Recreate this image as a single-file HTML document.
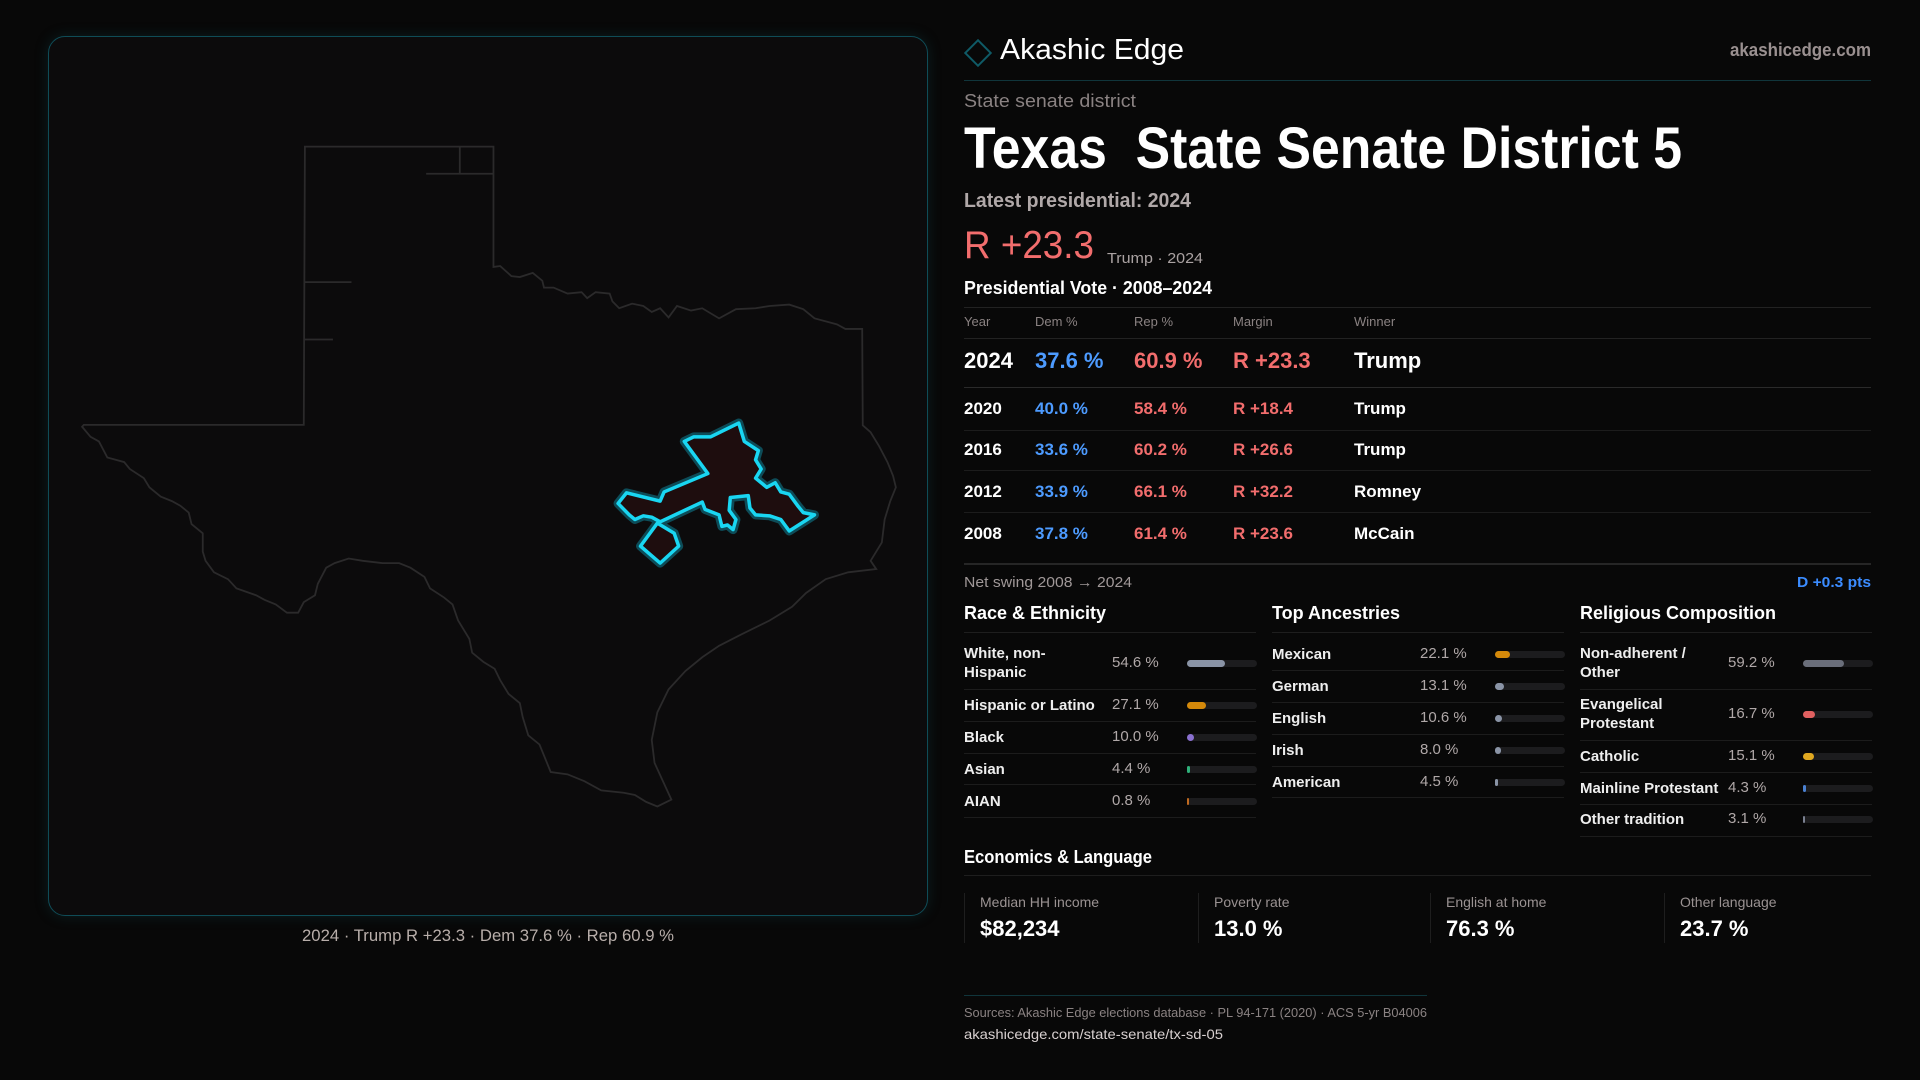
<!DOCTYPE html>
<html><head><meta charset="utf-8">
<style>
*{margin:0;padding:0;box-sizing:border-box}
body{width:1920px;height:1080px;background:#080808;font-family:"Liberation Sans",sans-serif;color:#fff;position:relative;overflow:hidden}
.a{position:absolute;white-space:nowrap;line-height:1}
.fit{transform-origin:0 50%;display:inline-block}
.hl{position:absolute;height:1px;background:#222}
</style></head><body>
<div class="a" style="left:48px;top:36px;width:880px;height:880px;border:1.5px solid #0f4c57;border-radius:17px;background:#0c0b0c;box-shadow:0 0 14px rgba(20,90,100,0.25)"></div>
<svg style="position:absolute;left:40px;top:120px" width="880" height="720" viewBox="0 0 1568 1568" preserveAspectRatio="none">
<g fill="none" stroke="#2b2a2b" stroke-width="1.8" vector-effect="non-scaling-stroke">
<polygon vector-effect="non-scaling-stroke" points="472,58 808,58 808,320 820,318 840,340 855,342 878,333 895,350 898,365 915,365 940,378 965,375 975,388 990,375 1015,378 1020,395 1032,410 1055,400 1075,405 1090,418 1105,410 1120,430 1135,405 1160,415 1180,410 1210,432 1240,412 1275,410 1300,405 1335,402 1360,412 1380,432 1420,445 1435,455 1465,455 1466,665 1480,680 1495,710 1510,745 1520,775 1525,800 1515,830 1505,870 1500,920 1480,960 1490,978 1440,985 1400,1000 1365,1030 1340,1060 1300,1090 1250,1120 1210,1145 1180,1170 1150,1200 1120,1240 1100,1290 1090,1350 1095,1400 1110,1440 1125,1480 1100,1495 1080,1485 1060,1470 1040,1465 1000,1460 970,1440 940,1425 910,1420 900,1390 890,1360 870,1340 860,1300 855,1270 835,1250 820,1220 810,1195 790,1180 770,1160 765,1130 745,1090 735,1055 720,1040 695,1020 685,995 660,975 640,965 610,965 575,960 550,955 525,965 510,975 495,1010 490,1035 470,1050 460,1073 440,1073 420,1055 400,1045 385,1035 350,1020 335,1000 310,985 295,960 290,940 290,900 270,880 265,855 250,840 235,830 215,820 195,800 185,780 160,760 150,745 120,735 105,700 90,690 75,668 78,664 470,664"/>
<path vector-effect="non-scaling-stroke" d="M748,58V117M688,117H808M472,353H555M472,478H522"/>
</g>
<g fill="#1e0d0e" stroke-linejoin="round">
<polygon vector-effect="non-scaling-stroke" stroke="#0d4c58" stroke-width="9" points="1245,660 1255,700 1280,720 1275,740 1285,760 1275,780 1295,800 1310,790 1320,810 1335,815 1350,840 1360,855 1380,860 1335,895 1320,870 1300,862 1275,860 1265,845 1262,818 1230,822 1228,850 1240,870 1235,892 1225,882 1215,885 1210,860 1185,848 1180,832 1105,875 1090,865 1075,862 1060,870 1050,860 1030,835 1045,812 1105,830 1112,810 1190,770 1148,700 1165,690 1195,690"/>
<polygon vector-effect="non-scaling-stroke" stroke="#0d4c58" stroke-width="9" points="1100,878 1130,900 1138,928 1105,965 1070,928"/>
<polygon vector-effect="non-scaling-stroke" stroke="#19d6f2" stroke-width="3.5" points="1245,660 1255,700 1280,720 1275,740 1285,760 1275,780 1295,800 1310,790 1320,810 1335,815 1350,840 1360,855 1380,860 1335,895 1320,870 1300,862 1275,860 1265,845 1262,818 1230,822 1228,850 1240,870 1235,892 1225,882 1215,885 1210,860 1185,848 1180,832 1105,875 1090,865 1075,862 1060,870 1050,860 1030,835 1045,812 1105,830 1112,810 1190,770 1148,700 1165,690 1195,690"/>
<polygon vector-effect="non-scaling-stroke" stroke="#19d6f2" stroke-width="3.5" points="1100,878 1130,900 1138,928 1105,965 1070,928"/>
</g>
</svg>
<div class="a" style="left:302px;top:927px;font-size:17px;color:#b8aeaa"><span class="fit" data-w="372">2024 · Trump R +23.3 · Dem 37.6 % · Rep 60.9 %</span></div>

<div class="a" style="left:968px;top:43px;width:20px;height:20px;border:2px solid #0f5a66;transform:rotate(45deg)"></div>
<div class="a" style="left:1000px;top:36px;font-size:29px;color:#fff"><span class="fit" data-w="184">Akashic Edge</span></div>
<div class="a" style="left:1730px;top:41px;font-size:18px;color:#9a9090;font-weight:bold"><span class="fit" data-w="141">akashicedge.com</span></div>
<div class="hl" style="left:964px;top:80px;width:907px;background:#10353b"></div>
<div class="a" style="left:964px;top:92px;font-size:18px;color:#8a8282"><span class="fit" data-w="172">State senate district</span></div>
<div class="a" style="left:964px;top:120px;font-size:58px;font-weight:bold;color:#fff"><span class="fit" data-w="718">Texas&nbsp; State Senate District 5</span></div>
<div class="a" style="left:964px;top:191px;font-size:20px;color:#b0a8a8;font-weight:bold"><span class="fit" data-w="227">Latest presidential: 2024</span></div>
<div class="a" style="left:964px;top:226px;font-size:39px;color:#f26d6d"><span class="fit" data-w="130">R +23.3</span></div>
<div class="a" style="left:1107px;top:251px;font-size:15px;color:#aaa2a2"><span class="fit" data-w="96">Trump · 2024</span></div>
<div class="a" style="left:964px;top:279px;font-size:18px;color:#fff;font-weight:bold"><span class="fit" data-w="248">Presidential Vote · 2008–2024</span></div>
<div class="hl" style="left:964px;top:307px;width:907px"></div>
<div id="tbl"></div>
<div class="hl" style="left:964px;top:563px;width:907px;height:2px;background:#262626"></div>
<div class="a" style="left:964px;top:575px;font-size:15px;color:#a09898"><span class="fit" data-w="168">Net swing 2008 → 2024</span></div>
<div class="a" style="left:1797px;top:575px;font-size:15px;color:#3b8cff;font-weight:bold"><span class="fit" data-w="74">D +0.3 pts</span></div>
<div id="demo"></div>

<div class="a" style="left:964px;top:848px;font-size:18px;font-weight:bold"><span class="fit" data-w="188">Economics &amp; Language</span></div>
<div class="hl" style="left:964px;top:875px;width:907px;background:#1e1e1e"></div>
<div id="econ"></div>
<div class="hl" style="left:964px;top:995px;width:463px;background:#10353b"></div>
<div class="a" style="left:964px;top:1006px;font-size:13px;color:#8a8282"><span class="fit" data-w="463">Sources: Akashic Edge elections database · PL 94-171 (2020) · ACS 5-yr B04006</span></div>
<div class="a" style="left:964px;top:1027px;font-size:14px;color:#d8d0d0"><span class="fit" data-w="259">akashicedge.com/state-senate/tx-sd-05</span></div>

<script>
const years=["2024","2020","2016","2012","2008"];
const demPct=[37.6,40.0,33.6,33.9,37.8];
const repPct=[60.9,58.4,60.2,66.1,61.4];
const winners=["Trump","Trump","Trump","Romney","McCain"];

const raceLabels=[["White, non-","Hispanic"],["Hispanic or Latino"],["Black"],["Asian"],["AIAN"]];
const raceValues=[54.6,27.1,10.0,4.4,0.8];
const ancLabels=[["Mexican"],["German"],["English"],["Irish"],["American"]];
const ancValues=[22.1,13.1,10.6,8.0,4.5];
const relLabels=[["Non-adherent /","Other"],["Evangelical","Protestant"],["Catholic"],["Mainline Protestant"],["Other tradition"]];
const relValues=[59.2,16.7,15.1,4.3,3.1];

const econLabels=["Median HH income","Poverty rate","English at home","Other language"];
const econValues=["$82,234","13.0 %","76.3 %","23.7 %"];

function mk(parent,cls,style,text){const d=document.createElement('div');d.className=cls;d.style.cssText=style;if(text!==undefined)d.textContent=text;parent.appendChild(d);return d;}

// table
const tbl=document.getElementById('tbl');
const colX=[964,1035,1134,1233,1354];
const hdr=["Year","Dem %","Rep %","Margin","Winner"];
hdr.forEach((h,i)=>{const e=mk(tbl,'a',`left:${colX[i]}px;top:315px;font-size:13px;color:#8a8282`,h);

});
mk(tbl,'hl','left:964px;top:338px;width:907px');
const rowCY=[361,408,449,491,533];
const lineY=[387,430,470,512,553];
years.forEach((y,i)=>{
  const big=i===0, fs=big?22:17;
  const top=rowCY[i]-fs/2;
  const m=repPct[i]-demPct[i];
  const cells=[[y,'#fff'],[demPct[i].toFixed(1)+' %','#4d9bff'],[repPct[i].toFixed(1)+' %','#f26d6d'],['R +'+m.toFixed(1),'#f26d6d'],[winners[i],'#fff']];
  cells.forEach((c,j)=>{const e=mk(tbl,'a',`left:${colX[j]}px;top:${top}px;font-size:${fs}px;color:${c[1]};font-weight:bold`,c[0]);
  
  });
  if(i<4){const l=mk(tbl,'hl',`left:964px;top:${lineY[i]}px;width:907px;background:${big?'#2a2a2a':'#1c1c1c'}`);}
});

// demographics
const demo=document.getElementById('demo');
const cols=[
 {x:964,title:"Race & Ethnicity",labels:raceLabels,values:raceValues,colors:["#8a94a6","#d4890a","#8a70d0","#2fb07a","#c06a20"],seps:[689,721,753,784,817],cy:[663,705,737,769,801]},
 {x:1272,title:"Top Ancestries",labels:ancLabels,values:ancValues,colors:["#d4890a","#8a94a6","#8a94a6","#8a94a6","#8a94a6"],seps:[670,702,734,766,797],cy:[654,686,718,750,782]},
 {x:1580,title:"Religious Composition",labels:relLabels,values:relValues,colors:["#6a6e7a","#e06060","#e0a820","#4a80d0","#7a8090"],seps:[689,740,772,804,836],cy:[663,714,756,788,819]}
];
cols.forEach((c,ci)=>{
  const h=mk(demo,'a',`left:${c.x}px;top:604px;font-size:18px;font-weight:bold`,c.title);
  
  
  mk(demo,'hl',`left:${c.x}px;top:632px;width:292px;background:#1e1e1e`);
  c.values.forEach((v,i)=>{
    const lab=c.labels[i];
    const lh=19, t=c.cy[i]-lab.length*lh/2;
    const L=mk(demo,'a',`left:${c.x}px;top:${t}px;font-size:15px;line-height:${lh}px;font-weight:bold;color:#eee;white-space:pre`,lab.join('\n'));
    
    
    const V=mk(demo,'a',`left:${c.x+148}px;top:${c.cy[i]-8}px;font-size:15px;color:#b0a8a8`,v.toFixed(1)+' %');
    
    
    const tx=c.x+223, tw=70;
    const T=mk(demo,'a',`left:${tx}px;top:${c.cy[i]-3.5}px;width:${tw}px;height:7px;border-radius:4px;background:#1c1c1e`);
    
    
    const fw=Math.max(2,tw*v/100);
    const B=mk(demo,'a',`left:${tx}px;top:${c.cy[i]-3.5}px;width:${fw}px;height:7px;border-radius:4px;background:${c.colors[i]}`);
    
    
    mk(demo,'hl',`left:${c.x}px;top:${c.seps[i]}px;width:292px;background:#1c1c1c`);
  });
});

// econ
const econ=document.getElementById('econ');
const ex=[964,1198,1430,1664];
econLabels.forEach((l,i)=>{
  mk(econ,'a',`left:${ex[i]}px;top:893px;width:1px;height:50px;background:#1e1e1e`);
  const a=mk(econ,'a',`left:${ex[i]+16}px;top:895px;font-size:14px;color:#9a9292`,l);
  
  
  const b=mk(econ,'a',`left:${ex[i]+16}px;top:918px;font-size:22px;font-weight:bold;color:#fff`,econValues[i]);
  
  
});

document.querySelectorAll('.fit').forEach(s=>{const w=+s.getAttribute('data-w');const r=s.getBoundingClientRect().width;if(r>0)s.style.transform=`scaleX(${w/r})`;});
</script>
</body></html>
